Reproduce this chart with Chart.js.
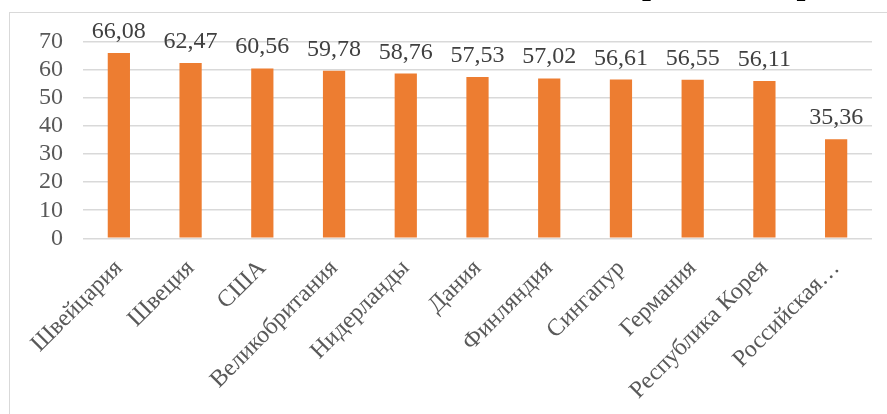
<!DOCTYPE html>
<html>
<head>
<meta charset="utf-8">
<script src="https://cdn.jsdelivr.net/npm/chart.js@4/dist/chart.umd.min.js"></script>
<style>
  html, body { margin: 0; padding: 0; background: #fff; overflow: hidden; }
  #wrap { position: relative; width: 887px; height: 414px; overflow: hidden; }
  #frame { position: absolute; left: 9px; top: 12px; width: 890px; height: 410px;
           border: 1.5px solid #d9d9d9; box-sizing: border-box; }
  #chart { position: absolute; left: 0; top: 0; }
</style>
</head>
<body>
<div id="wrap">
  <div id="frame"></div>
  <canvas id="chart" width="887" height="414"></canvas>
</div>
<script>
// --- data ---
const countries = ['Швейцария', 'Швеция', 'США', 'Великобритания', 'Нидерланды', 'Дания',
    'Финляндия', 'Сингапур', 'Германия', 'Республика Корея', 'Российская…'];
const scores = [66.08, 62.47, 60.56, 59.78, 58.76, 57.53, 57.02, 56.61, 56.55, 56.11, 35.36];
const yTicks = [0, 10, 20, 30, 40, 50, 60, 70];
const chartTitle = 'Глобальный инновационный индекс, 2020 г.: страны-лидеры и Россия';

const FONT = '"Liberation Serif", "Times New Roman", serif';

// value labels above the bars, with decimal comma
const barLabels = {
    id: 'barLabels',
    afterDatasetsDraw(chart) {
        const ctx = chart.ctx;
        const meta = chart.getDatasetMeta(0);
        ctx.save();
        ctx.font = '24px ' + FONT;
        ctx.fillStyle = '#404040';
        ctx.textAlign = 'center';
        ctx.textBaseline = 'alphabetic';
        meta.data.forEach((bar, i) => {
            ctx.fillText(scores[i].toFixed(2).replace('.', ','), bar.x, bar.y - 15);
        });
        ctx.restore();
    }
};

// title is cut off by the top edge, only the descenders show
const cutTitle = {
    id: 'cutTitle',
    afterDraw(chart) {
        const ctx = chart.ctx;
        ctx.save();
        ctx.font = 'bold 32px ' + FONT;
        ctx.fillStyle = '#000';
        ctx.textAlign = 'center';
        ctx.textBaseline = 'alphabetic';
        ctx.fillText(chartTitle, chart.width / 2 + 20, -6);
        ctx.restore();
    }
};

new Chart(document.getElementById('chart'), {
    type: 'bar',
    data: {
        labels: countries,
        datasets: [{
            data: scores,
            backgroundColor: '#ED7D31',
            borderWidth: 0,
            barPercentage: 0.31,
            categoryPercentage: 1
        }]
    },
    options: {
        responsive: false,
        animation: false,
        layout: { padding: { left: 38, top: 42, right: 15, bottom: 1 } },
        plugins: { legend: { display: false }, tooltip: { enabled: false } },
        scales: {
            x: {
                grid: { display: false },
                border: { display: false },
                ticks: {
                    maxRotation: 45, minRotation: 45, padding: 8,
                    color: '#595959', font: { family: FONT, size: 24 }
                }
            },
            y: {
                min: 0, max: 70,
                afterBuildTicks: (axis) => { axis.ticks = yTicks.map(v => ({ value: v })); },
                afterFit: (axis) => { axis.width = 45; },
                grid: { color: '#d9d9d9', lineWidth: 1.5, drawTicks: false },
                border: { display: false },
                ticks: {
                    autoSkip: false, padding: 20,
                    color: '#595959', font: { family: FONT, size: 24 }
                }
            }
        }
    },
    plugins: [barLabels, cutTitle]
});
</script>
</body>
</html>
